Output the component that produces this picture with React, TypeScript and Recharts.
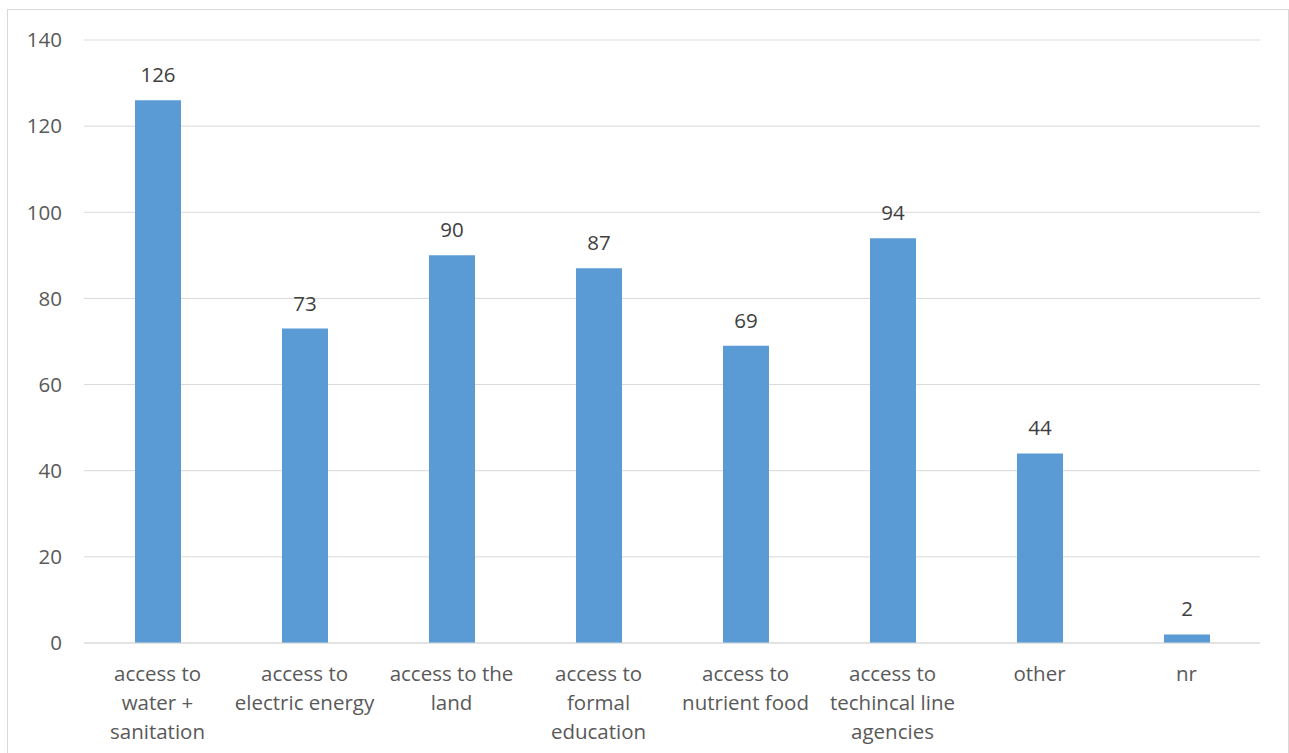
import React from "react";
import { BarChart, Bar, XAxis, YAxis, CartesianGrid, LabelList } from "recharts";

const categories = [
  "access to\nwater +\nsanitation",
  "access to\nelectric energy",
  "access to the\nland",
  "access to\nformal\neducation",
  "access to\nnutrient food",
  "access to\ntechincal line\nagencies",
  "other",
  "nr",
];
const values = [126, 73, 90, 87, 69, 94, 44, 2];
const yTicks = [0, 20, 40, 60, 80, 100, 120, 140];

const data = categories.map((c, i) => ({ name: c, value: values[i] }));

const FONT = "'Open Sans', sans-serif";

const CatTick = (props: any) => {
  const { x, y, payload } = props;
  const lines = String(payload.value).split("\n");
  return (
    <g transform={`translate(${x},${y})`}>
      {lines.map((l: string, i: number) => (
        <text
          key={i}
          x={0}
          y={30 + i * 29}
          textAnchor="middle"
          fill="#595959"
          fontSize={20.5}
          fontFamily={FONT}
        >
          {l}
        </text>
      ))}
    </g>
  );
};

export default function App() {
  return (
    <div style={{ position: "absolute", left: 0, top: 0, width: 1289, height: 753, overflow: "hidden", background: "#fff" }}>
      <div
        style={{
          position: "absolute",
          left: 7,
          top: 9,
          width: 1282,
          height: 760,
          border: "1px solid #d9d9d9",
          boxSizing: "border-box",
        }}
      />
      <div style={{ position: "absolute", left: 0, top: 0 }}>
        <BarChart
          width={1289}
          height={753}
          data={data}
          margin={{ top: 40, right: 29, bottom: 0, left: 0 }}
          barSize={46}
        >
          <CartesianGrid vertical={false} stroke="#d9d9d9" strokeWidth={1} />
          <XAxis
            dataKey="name"
            height={110}
            interval={0}
            tickLine={false}
            axisLine={{ stroke: "#d9d9d9", strokeWidth: 1 }}
            tick={<CatTick />}
          />
          <YAxis
            width={84}
            domain={[0, 140]}
            ticks={yTicks}
            axisLine={false}
            tickLine={false}
            tickSize={0}
            tickMargin={22}
            tick={{ fill: "#595959", fontSize: 20.5, fontFamily: FONT }}
          />
          <Bar dataKey="value" fill="#5b9bd5" isAnimationActive={false}>
            <LabelList
              dataKey="value"
              position="top"
              offset={18}
              fill="#404040"
              fontSize={20.5}
              fontFamily={FONT}
            />
          </Bar>
        </BarChart>
      </div>
    </div>
  );
}
